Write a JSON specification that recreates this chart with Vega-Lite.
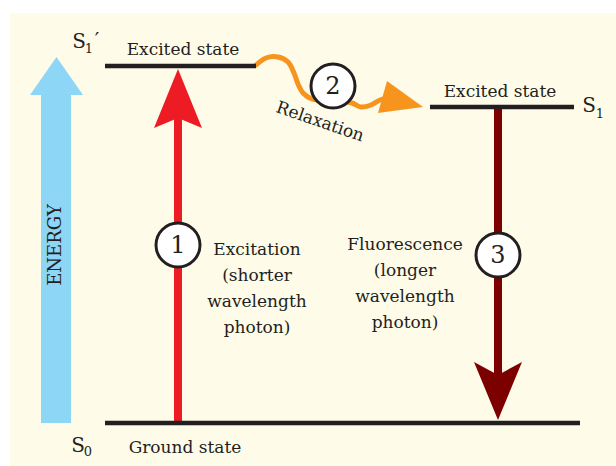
{
  "$schema": "https://vega.github.io/schema/vega-lite/v6.json",
  "width": 616,
  "height": 466,
  "padding": 0,
  "autosize": {"type": "fit", "contains": "padding"},
  "background": "#ffffff",
  "config": {"view": {"stroke": null}},
  "datasets": {
    "bg": [{"x": 10, "x2": 616, "y": 13, "y2": 466}],
    "energyShaft": [{"x": 41, "x2": 71, "y": 95, "y2": 423}],
    "heads": [
      {"part": "energy", "x": 30, "y": 95, "y2": 95},
      {"part": "energy", "x": 56.5, "y": 57, "y2": 95},
      {"part": "energy", "x": 83, "y": 95, "y2": 95},
      {"part": "excitation", "x": 154, "y": 128, "y2": 128},
      {"part": "excitation", "x": 178, "y": 69, "y2": 118},
      {"part": "excitation", "x": 202, "y": 128, "y2": 128},
      {"part": "fluorescence", "x": 474, "y": 362, "y2": 362},
      {"part": "fluorescence", "x": 498, "y": 375, "y2": 420},
      {"part": "fluorescence", "x": 522, "y": 362, "y2": 362},
      {"part": "relaxation", "x": 378, "y": 113, "y2": 113},
      {"part": "relaxation", "x": 387, "y": 81, "y2": 111.8},
      {"part": "relaxation", "x": 423, "y": 107, "y2": 107}
    ],
    "shafts": [
      {"part": "excitation", "x": 178, "y": 423, "y2": 118},
      {"part": "fluorescence", "x": 498, "y": 106, "y2": 376}
    ],
    "wave": [
      {"o": 1, "x": 255, "y": 66},
      {"o": 2, "x": 266, "y": 58},
      {"o": 3, "x": 278, "y": 57},
      {"o": 4, "x": 288, "y": 62},
      {"o": 5, "x": 294, "y": 73},
      {"o": 6, "x": 298, "y": 84},
      {"o": 7, "x": 303, "y": 93},
      {"o": 8, "x": 312, "y": 99},
      {"o": 9, "x": 335, "y": 101},
      {"o": 10, "x": 352, "y": 103},
      {"o": 11, "x": 361, "y": 107},
      {"o": 12, "x": 371, "y": 105},
      {"o": 13, "x": 380, "y": 100},
      {"o": 14, "x": 388, "y": 98}
    ],
    "levels": [
      {"x": 105, "x2": 256, "y": 66},
      {"x": 430, "x2": 574, "y": 107},
      {"x": 105, "x2": 580, "y": 423}
    ],
    "circles": [
      {"n": "1", "x": 178, "y": 245},
      {"n": "2", "x": 333, "y": 86},
      {"n": "3", "x": 498, "y": 255}
    ],
    "body": [
      {"t": "Excited state", "x": 183, "y": 55},
      {"t": "Excited state", "x": 500, "y": 97},
      {"t": "Ground state", "x": 185, "y": 453},
      {"t": "Excitation", "x": 257, "y": 255},
      {"t": "(shorter", "x": 257, "y": 281},
      {"t": "wavelength", "x": 257, "y": 307},
      {"t": "photon)", "x": 257, "y": 333},
      {"t": "Fluorescence", "x": 405, "y": 250},
      {"t": "(longer", "x": 405, "y": 276},
      {"t": "wavelength", "x": 405, "y": 302},
      {"t": "photon)", "x": 405, "y": 328}
    ],
    "bigS": [
      {"t": "S", "x": 79, "y": 48},
      {"t": "′", "x": 97, "y": 47},
      {"t": "S", "x": 589, "y": 112},
      {"t": "S", "x": 78, "y": 452}
    ],
    "subs": [
      {"t": "1", "x": 89, "y": 53},
      {"t": "1", "x": 600, "y": 118},
      {"t": "0", "x": 88, "y": 456}
    ]
  },
  "encoding": {
    "x": {"field": "x", "type": "quantitative", "scale": {"domain": [0, 616], "nice": false, "zero": false}, "axis": null},
    "y": {"field": "y", "type": "quantitative", "scale": {"domain": [0, 466], "reverse": true, "nice": false, "zero": false}, "axis": null}
  },
  "layer": [
    {
      "data": {"name": "bg"},
      "mark": {"type": "rect", "fill": "#fefbe9"},
      "encoding": {"x2": {"field": "x2"}, "y2": {"field": "y2"}}
    },
    {
      "data": {"name": "energyShaft"},
      "mark": {"type": "rect", "fill": "#8dd6f6"},
      "encoding": {"x2": {"field": "x2"}, "y2": {"field": "y2"}}
    },
    {
      "data": {"name": "wave"},
      "mark": {"type": "line", "stroke": "#f7941d", "strokeWidth": 5, "interpolate": "catmull-rom"},
      "encoding": {"order": {"field": "o", "type": "quantitative"}}
    },
    {
      "data": {"name": "shafts"},
      "mark": {"type": "rule", "strokeWidth": 8},
      "encoding": {
        "y2": {"field": "y2"},
        "color": {"field": "part", "type": "nominal", "legend": null,
          "scale": {"domain": ["energy", "excitation", "fluorescence", "relaxation"], "range": ["#8dd6f6", "#ed1c24", "#7d0000", "#f7941d"]}}
      }
    },
    {
      "data": {"name": "heads"},
      "mark": {"type": "area", "orient": "vertical", "opacity": 1},
      "encoding": {
        "y": {"field": "y", "type": "quantitative", "stack": null},
        "y2": {"field": "y2"},
        "color": {"field": "part", "type": "nominal", "legend": null}
      }
    },
    {
      "data": {"name": "levels"},
      "mark": {"type": "rule", "stroke": "#231f20", "strokeWidth": 4.5},
      "encoding": {"x2": {"field": "x2"}}
    },
    {
      "data": {"name": "circles"},
      "mark": {"type": "point", "shape": "circle", "filled": false, "fill": "#ffffff", "fillOpacity": 1, "stroke": "#231f20", "strokeWidth": 3, "size": 1936, "opacity": 1}
    },
    {
      "data": {"name": "circles"},
      "mark": {"type": "text", "font": "DejaVu Serif", "fontSize": 24, "color": "#231f20", "align": "center", "baseline": "middle", "dy": 1},
      "encoding": {"text": {"field": "n"}}
    },
    {
      "data": {"name": "body"},
      "mark": {"type": "text", "font": "DejaVu Serif", "fontSize": 17, "color": "#231f20", "align": "center", "baseline": "alphabetic"},
      "encoding": {"text": {"field": "t"}}
    },
    {
      "data": {"values": [{"t": "Relaxation", "x": 320, "y": 122}]},
      "mark": {"type": "text", "font": "DejaVu Serif", "fontSize": 17, "color": "#231f20", "align": "center", "baseline": "middle", "angle": 19},
      "encoding": {"text": {"field": "t"}}
    },
    {
      "data": {"values": [{"t": "ENERGY", "x": 56, "y": 245}]},
      "mark": {"type": "text", "font": "DejaVu Serif", "fontSize": 18, "color": "#231f20", "align": "center", "baseline": "middle", "angle": 270},
      "encoding": {"text": {"field": "t"}}
    },
    {
      "data": {"name": "bigS"},
      "mark": {"type": "text", "font": "DejaVu Serif", "fontSize": 20, "color": "#231f20", "align": "center", "baseline": "alphabetic"},
      "encoding": {"text": {"field": "t"}}
    },
    {
      "data": {"name": "subs"},
      "mark": {"type": "text", "font": "DejaVu Serif", "fontSize": 13, "color": "#231f20", "align": "center", "baseline": "alphabetic"},
      "encoding": {"text": {"field": "t"}}
    }
  ]
}
